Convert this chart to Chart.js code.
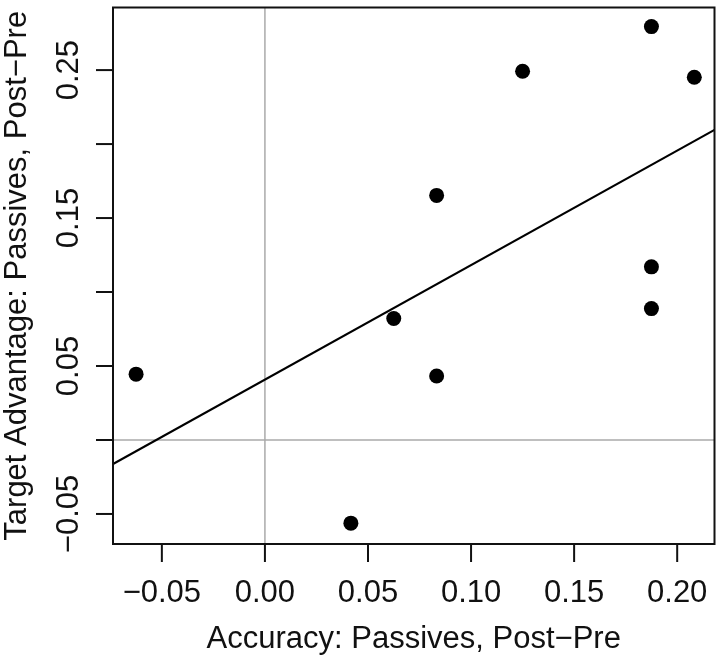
<!DOCTYPE html>
<html>
<head>
<meta charset="utf-8">
<script src="https://cdn.jsdelivr.net/npm/chart.js@4.4.1/dist/chart.umd.min.js"></script>
<style>
  html, body { margin: 0; padding: 0; background: #fff; }
  #wrap { width: 722px; height: 659px; position: relative; }
</style>
</head>
<body>
<div id="wrap"><canvas id="chart"></canvas></div>
<script>
// points
const accuracy = [-0.0625, 0.0417, 0.0625, 0.0833, 0.0833, 0.125, 0.1875, 0.2083, 0.1875, 0.1875];
const advantage = [0.0445, -0.0562, 0.0821, 0.0432, 0.1653, 0.2492, 0.2794, 0.2452, 0.117, 0.0888];

// fitted line, ends at the plot edges
const fitX = [-0.0737, 0.2181];
const fitY = [-0.0162, 0.2096];

// axis limits and ticks
const xRange = [-0.0737, 0.2181];
const yRange = [-0.0703, 0.2923];
const xTicks = [-0.05, 0, 0.05, 0.10, 0.15, 0.20];
const xTickLabels = ["\u22120.05", "0.00", "0.05", "0.10", "0.15", "0.20"];
const yTicks = [-0.05, 0, 0.05, 0.10, 0.15, 0.20, 0.25];
const yTickLabels = ["\u22120.05", "", "0.05", "", "0.15", "", "0.25"];

const xTitle = "Accuracy: Passives, Post\u2212Pre";
const yTitle = "Target Advantage: Passives, Post\u2212Pre";

const FONT = "31px 'Liberation Sans', Arial, sans-serif";

// box, ticks and labels in R style
const axesPlugin = {
    id: "rAxes",
    afterDraw(chart) {
        const c = chart.ctx;
        const a = chart.chartArea;
        const xs = chart.scales.x;
        const ys = chart.scales.y;
        c.save();
        c.strokeStyle = "#111";
        c.lineWidth = 2;
        c.strokeRect(a.left, a.top, a.right - a.left, a.bottom - a.top);

        c.fillStyle = "#111";
        c.font = FONT;

        // x axis
        c.textAlign = "center";
        c.textBaseline = "alphabetic";
        xTicks.forEach((v, i) => {
            const px = xs.getPixelForValue(v);
            c.beginPath();
            c.moveTo(px, a.bottom);
            c.lineTo(px, a.bottom + 18);
            c.stroke();
            c.fillText(xTickLabels[i], px, 602);
        });
        c.fillText(xTitle, (a.left + a.right) / 2, 648);

        // y axis
        yTicks.forEach((v, i) => {
            const py = ys.getPixelForValue(v);
            c.beginPath();
            c.moveTo(a.left, py);
            c.lineTo(a.left - 17, py);
            c.stroke();
            if (yTickLabels[i]) {
                c.save();
                c.translate(78, py);
                c.rotate(-Math.PI / 2);
                c.fillText(yTickLabels[i], 0, 0);
                c.restore();
            }
        });
        c.save();
        c.translate(26, (a.top + a.bottom) / 2);
        c.rotate(-Math.PI / 2);
        c.fillText(yTitle, 0, 0);
        c.restore();

        c.restore();
    }
};

const points = accuracy.map((x, i) => ({ x: x, y: advantage[i] }));

const ctx = document.getElementById("chart");

const chart = new Chart(ctx, {
    type: "scatter",
    data: {
        datasets: [
            {
                label: "data",
                data: points,
                backgroundColor: "#000",
                borderWidth: 0,
                pointRadius: 7.5,
                pointHoverRadius: 7.5
            },
            {
                label: "fit",
                type: "line",
                data: [{ x: fitX[0], y: fitY[0] }, { x: fitX[1], y: fitY[1] }],
                borderColor: "#000",
                borderWidth: 2.2,
                pointRadius: 0,
                fill: false
            },
            {
                label: "x zero",
                type: "line",
                data: [{ x: 0, y: yRange[0] }, { x: 0, y: yRange[1] }],
                borderColor: "#aaa",
                borderWidth: 1.5,
                pointRadius: 0,
                fill: false
            },
            {
                label: "y zero",
                type: "line",
                data: [{ x: xRange[0], y: 0 }, { x: xRange[1], y: 0 }],
                borderColor: "#aaa",
                borderWidth: 1.5,
                pointRadius: 0,
                fill: false
            }
        ]
    },
    options: {
        responsive: true,
        maintainAspectRatio: false,
        animation: false,
        layout: {
            padding: { left: 113, top: 4, right: 5, bottom: 115 }
        },
        plugins: {
            legend: { display: false },
            tooltip: { enabled: false }
        },
        scales: {
            x: {
                type: "linear",
                min: xRange[0],
                max: xRange[1],
                display: false
            },
            y: {
                type: "linear",
                min: yRange[0],
                max: yRange[1],
                display: false
            }
        }
    },
    plugins: [axesPlugin]
});
</script>
</body>
</html>
